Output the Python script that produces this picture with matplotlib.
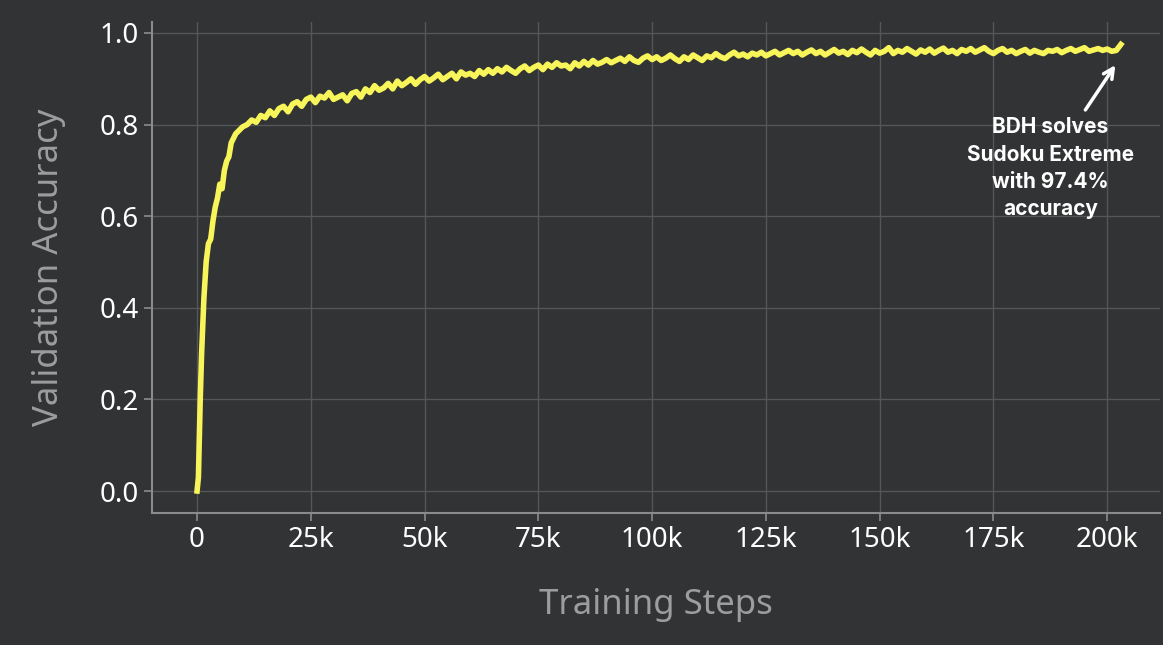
import numpy as np
import matplotlib
matplotlib.use("Agg")
import matplotlib.pyplot as plt

# early ramp (steps, accuracy)
early_steps = [0, 300, 700, 1000, 1500, 2000, 2500, 3000, 3500, 4000, 4500, 5000,
               5500, 6000, 6500, 7000, 7500, 8000, 8500, 9000, 9500, 10000]
early_acc = [0.0, 0.03, 0.20, 0.30, 0.42, 0.50, 0.54, 0.55, 0.59, 0.62, 0.64, 0.67,
             0.66, 0.70, 0.72, 0.73, 0.76, 0.77, 0.78, 0.785, 0.79, 0.795]
# later part, every 1k steps from 11k to 203k
late_acc = [
    0.80, 0.81, 0.805, 0.82, 0.815, 0.83, 0.82, 0.835, 0.84, 0.828,  # 11-20k
    0.845, 0.85, 0.84, 0.855, 0.86, 0.848, 0.862, 0.858, 0.87, 0.855,  # 21-30k
    0.86, 0.865, 0.852, 0.868, 0.872, 0.86, 0.878, 0.87, 0.885, 0.875,  # 31-40k
    0.88, 0.89, 0.878, 0.895, 0.885, 0.892, 0.9, 0.888, 0.898, 0.905,  # 41-50k
    0.895, 0.902, 0.91, 0.898, 0.905, 0.912, 0.9, 0.915, 0.908, 0.912,  # 51-60k
    0.905, 0.918, 0.91, 0.92, 0.912, 0.922, 0.915, 0.925, 0.918, 0.912,  # 61-70k
    0.922, 0.928, 0.918, 0.925, 0.93, 0.92, 0.932, 0.925, 0.935, 0.928,  # 71-80k
    0.93, 0.922, 0.935, 0.928, 0.938, 0.93, 0.94, 0.932, 0.936, 0.942,  # 81-90k
    0.935, 0.94, 0.945, 0.938, 0.948, 0.94, 0.936, 0.945, 0.95, 0.942,  # 91-100k
    0.948, 0.94, 0.945, 0.952, 0.944, 0.938, 0.948, 0.942, 0.952, 0.946,  # 101-110k
    0.94, 0.95, 0.946, 0.955, 0.948, 0.944, 0.952, 0.958, 0.95, 0.954,  # 111-120k
    0.948, 0.956, 0.952, 0.958, 0.95, 0.955, 0.96, 0.952, 0.957, 0.962,  # 121-130k
    0.955, 0.96, 0.952, 0.958, 0.963, 0.955, 0.96, 0.952, 0.958, 0.964,  # 131-140k
    0.956, 0.96, 0.953, 0.962, 0.957, 0.965, 0.958, 0.952, 0.962, 0.956,  # 141-150k
    0.96, 0.968, 0.955, 0.962, 0.958, 0.966, 0.96, 0.954, 0.963, 0.958,  # 151-160k
    0.965, 0.956, 0.962, 0.967, 0.958, 0.962, 0.955, 0.964, 0.96, 0.966,  # 161-170k
    0.958, 0.963, 0.968, 0.96, 0.955, 0.962, 0.966, 0.958, 0.962, 0.955,  # 171-180k
    0.96, 0.964, 0.956, 0.962, 0.958, 0.955, 0.962, 0.96, 0.964, 0.957,  # 181-190k
    0.962, 0.966, 0.96, 0.964, 0.968, 0.96, 0.963, 0.966, 0.962, 0.965,  # 191-200k
    0.96, 0.962, 0.975,  # 201-203k
]
late_steps = list(range(11000, 11000 + 1000 * len(late_acc), 1000))

steps = np.array(early_steps + late_steps)
acc = np.array(early_acc + late_acc)

bg = "#323334"
fig = plt.figure(figsize=(11.63, 6.45), dpi=100, facecolor=bg)
ax = fig.add_axes([152 / 1163, 1 - 513 / 645, 1008 / 1163, 491 / 645], facecolor=bg)

ax.plot(steps, acc, color="#f7f55a", lw=4, solid_joinstyle="round")

ax.set_xlim(-9900, 211600)
ax.set_ylim(-0.048, 1.024)
ax.set_xticks(np.arange(0, 200001, 25000))
ax.set_xticklabels(["0", "25k", "50k", "75k", "100k", "125k", "150k", "175k", "200k"])
ax.set_yticks(np.arange(0, 1.01, 0.2))
ax.set_yticklabels([f"{v:.1f}" for v in np.arange(0, 1.01, 0.2)])
ax.grid(True, color="#555658", lw=1)
ax.set_axisbelow(True)
for s in ["top", "right"]:
    ax.spines[s].set_visible(False)
for s in ["left", "bottom"]:
    ax.spines[s].set_color("#8a8b8d")
    ax.spines[s].set_linewidth(1.5)
ax.tick_params(colors="#8a8b8d", labelcolor="white", labelsize=20, length=6, width=1.2)
for t in ax.get_xticklabels() + ax.get_yticklabels():
    t.set_family("Noto Sans")

ax.set_xlabel("Training Steps", fontsize=25, color="#9c9d9f", family="Noto Sans", labelpad=24)
ax.set_ylabel("Validation Accuracy", fontsize=25, color="#9c9d9f", family="Noto Sans", labelpad=24)

ax.text(187500, 0.705, "BDH solves\nSudoku Extreme\nwith 97.4%\naccuracy",
        ha="center", va="center", fontsize=15, fontweight="bold",
        color="white", family="Inter", linespacing=1.45)
ax.annotate("", xy=(201800, 0.93), xytext=(195200, 0.832),
            arrowprops=dict(arrowstyle="->", color="white", lw=2.5,
                            mutation_scale=18, shrinkA=0, shrinkB=0))

fig.savefig("out.png", dpi=100, facecolor=bg)
